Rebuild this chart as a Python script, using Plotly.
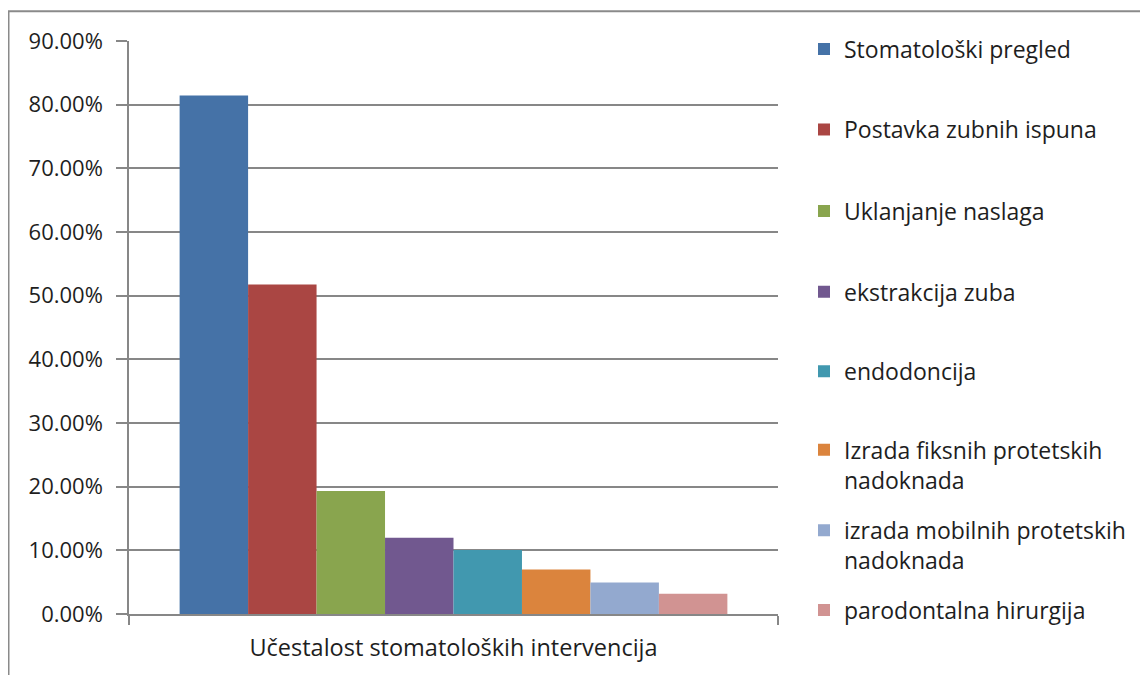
import plotly.graph_objects as go

category = ["Učestalost stomatoloških intervencija"]
names = [
    "Stomatološki pregled",
    "Postavka zubnih ispuna",
    "Uklanjanje naslaga",
    "ekstrakcija zuba",
    "endodoncija",
    "Izrada fiksnih protetskih<br>nadoknada",
    "izrada mobilnih protetskih<br>nadoknada",
    "parodontalna hirurgija",
]
values = [0.8145, 0.5177, 0.1933, 0.1198, 0.1005, 0.0698, 0.0495, 0.0317]
colors = ["#4572A7", "#AA4643", "#89A54E", "#71588F", "#4198AF", "#DB843D", "#93A9CF", "#D19392"]
y_ticks = [0, 0.1, 0.2, 0.3, 0.4, 0.5, 0.6, 0.7, 0.8, 0.9]

OFF = 8  # browser body margin
W, H = 1148 - OFF, 675 - OFF
L, R, T, B = 129 - OFF, 778 - OFF, 41 - OFF, 617 - OFF
FONT = "Open Sans"
GRID = "#878787"
TXT = "#1e1e1e"

def px_to_paper_x(px):
    return (px - OFF - L) / (R - L)

def px_to_paper_y(py):
    return (B - (py - OFF)) / (B - T)

legend_centers = [49, 130, 212, 293, 373, 467, 548, 613]

fig = go.Figure()
layout_legends = {}
for i, (n, v, c) in enumerate(zip(names, values, colors)):
    key = "legend" if i == 0 else f"legend{i+1}"
    fig.add_trace(go.Bar(
        x=category, y=[v], name=n, marker=dict(color=c, line=dict(width=0)),
        legend=key, showlegend=True,
    ))
    layout_legends[key] = dict(
        x=px_to_paper_x(804), xanchor="left",
        y=px_to_paper_y(legend_centers[i]), yanchor="middle",
        bgcolor="rgba(0,0,0,0)", borderwidth=0,
        font=dict(family=FONT, size=23, color=TXT),
        valign="top", itemclick=False,
    )

fig.update_layout(
    width=W, height=H,
    margin=dict(l=L, r=W - R, t=T, b=H - B, pad=0),
    paper_bgcolor="white", plot_bgcolor="white",
    barmode="group", bargap=0.156, bargroupgap=0,
    font=dict(family=FONT, size=23, color=TXT),
    xaxis=dict(
        type="category", showline=True, linecolor=GRID, linewidth=1.5,
        ticks="outside", tickson="boundaries", ticklen=9, tickcolor=GRID, tickwidth=1.5,
        ticklabelstandoff=12, showgrid=False,
        tickfont=dict(family=FONT, size=23.5, color=TXT),
    ),
    yaxis=dict(
        range=[0, 0.9], tickvals=y_ticks, tickformat=".2%",
        showline=True, linecolor=GRID, linewidth=1.5,
        ticks="outside", ticklen=11, tickcolor=GRID, tickwidth=1.5,
        showgrid=True, gridcolor=GRID, gridwidth=1.5, zeroline=False,
        ticklabelstandoff=9,
        tickfont=dict(family=FONT, size=22, color=TXT),
    ),
    shapes=[dict(
        type="rect", xref="paper", yref="paper",
        x0=px_to_paper_x(OFF + 0.5), x1=px_to_paper_x(1200),
        y0=px_to_paper_y(720), y1=px_to_paper_y(11),
        line=dict(color="#8a8a8a", width=2), fillcolor="rgba(0,0,0,0)", layer="below",
    )],
    **layout_legends,
)

fig.write_html("out.html")
